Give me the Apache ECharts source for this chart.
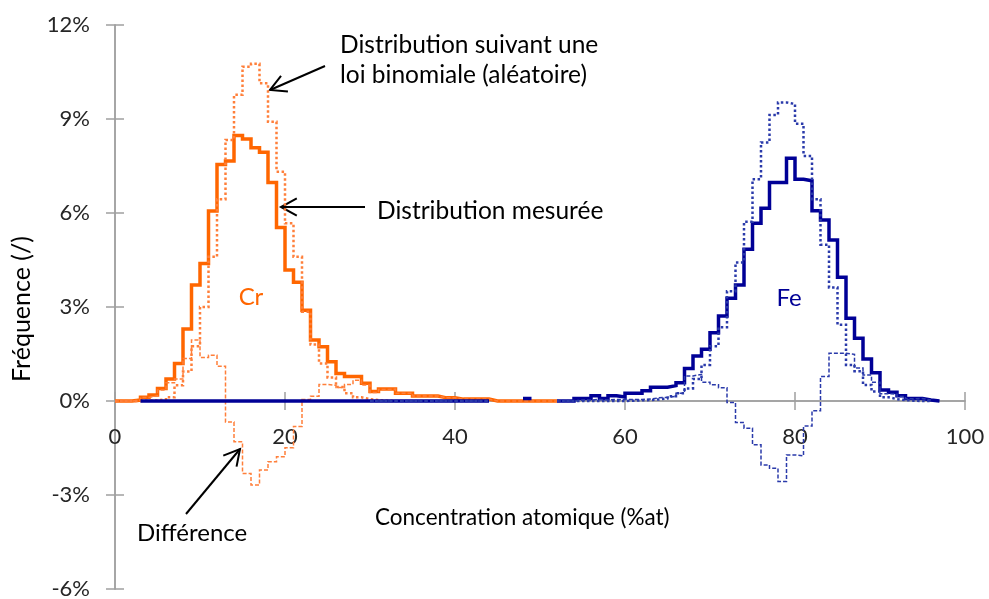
<!DOCTYPE html>
<html><head><meta charset="utf-8">
<script src="https://cdn.jsdelivr.net/npm/echarts@6/dist/echarts.min.js"></script>
<style>html,body{margin:0;padding:0;background:#fff}#c{width:989px;height:599px}</style>
</head><body><div id="c"></div>
<script>
// ---- data (bin width 1 %at, value = frequency in %) ----
const binWidth = 1;
const xTicks = [0, 20, 40, 60, 80, 100];
const yTicks = [-6, -3, 0, 3, 6, 9, 12];

const crStart = 0;
const crMeasured = [0, 0, 0.03, 0.12, 0.19, 0.40, 0.70, 1.20, 2.30, 3.70,
  4.39, 6.06, 7.55, 7.66, 8.47, 8.36, 8.08, 7.94, 6.97, 5.54,
  4.18, 3.79, 2.90, 1.95, 1.73, 1.25, 0.88, 0.78, 0.78, 0.57,
  0.30, 0.38, 0.38, 0.25, 0.25, 0.16, 0.16, 0.16, 0.10, 0.10,
  0.06, 0.06, 0.06, 0.06, 0, 0, 0, 0, 0, 0, 0, 0];
const crBinomial = [0, 0, 0, 0.01, 0.02, 0.05, 0.12, 0.50, 0.94, 1.75,
  3.00, 4.60, 6.44, 8.33, 9.77, 10.67, 10.76, 10.14, 8.91, 7.32,
  5.67, 4.60, 2.85, 1.80, 1.20, 0.75, 0.45, 0.25, 0.12, 0.06,
  0.03, 0.01, 0];
const crDifference = [0, 0, 0.03, 0.11, 0.17, 0.35, 0.58, 0.70, 1.36, 1.95,
  1.39, 1.46, 1.11, -0.67, -1.30, -2.31, -2.68, -2.20, -1.94, -1.78,
  -1.49, -0.81, 0.05, 0.15, 0.53, 0.50, 0.43, 0.53, 0.66, 0.51,
  0.27, 0.37, 0.38, 0.25, 0.25, 0.16, 0.16, 0.16, 0.10, 0.10,
  0.06, 0.06, 0.06, 0.06, 0, 0, 0, 0, 0, 0, 0, 0];

const feStart = 3;
const feMeasured = [
  0, 0, 0, 0, 0, 0, 0, 0, 0, 0, 0, 0, 0, 0, 0, 0, 0, 0, 0, 0, 0,
  0, 0, 0, 0, 0, 0, 0, 0, 0, 0, 0, 0, 0, 0, 0, 0, 0, 0, 0, 0,
  null, null, null, null, 0.08, null, null, null,
  0, 0, 0.08, 0.08, 0.17, 0.08, 0.17, 0.13, 0.25, 0.25,
  0.33, 0.44, 0.44, 0.49, 0.58, 1.04, 1.44, 1.65, 2.18, 2.71,
  3.28, 3.70, 4.84, 5.67, 6.15, 6.97, 6.97, 7.75, 7.08, 7.03,
  6.07, 5.78, 5.14, 3.95, 2.64, 2.00, 1.34, 0.90, 0.35, 0.28,
  0.17, 0.08, 0.08, 0.03, 0];
const feRefStart = 30;
const feBinomial = [
  0, 0, 0, 0, 0, 0, 0, 0, 0, 0, 0, 0, 0, 0,
  null, null, null, null, null, null, null, null,
  0, 0, 0, 0, 0, 0, 0, 0, 0.01, 0.02,
  0.03, 0.05, 0.08, 0.15, 0.25, 0.40, 0.70, 1.15, 1.75, 2.35,
  3.50, 4.42, 5.72, 7.08, 8.25, 9.13, 9.53, 9.48, 8.85, 7.82,
  6.44, 4.99, 3.62, 2.43, 1.15, 0.95, 0.51, 0.30, 0.12, 0.06,
  0.03, 0.01, 0, 0];
const feDifference = [
  0, 0, 0, 0, 0, 0, 0, 0, 0, 0, 0, 0, 0, 0,
  null, null, null, null, null, null, null, null,
  0, 0, 0.03, 0.03, 0.05, 0.03, 0.05, 0.05, 0.05, 0.05,
  0.06, 0.10, 0.12, 0.15, 0.25, 0.80, 0.85, 0.60, 0.52, 0.42,
  -0.05, -0.69, -0.87, -1.40, -2.04, -2.15, -2.57, -1.72, -1.75, -0.80,
  -0.31, 0.78, 1.52, 1.52, 1.49, 1.05, 0.83, 0.60, 0.23, 0.22,
  0.14, 0.07, 0.08, 0.03];

const ORANGE = '#FF6600';
const BLUE = '#000096';
const FONT = 'Lato';

const GRID = { left: 115, right: 24, top: 25, bottom: 10 };
const PLOT_H = 599 - GRID.top - GRID.bottom;
// distance from grid bottom edge up to the y = 0 line
const zeroOffset = -PLOT_H * (0 - yTicks[0]) / (yTicks[yTicks.length - 1] - yTicks[0]);

function steps(start, vals) {
  const pts = [];
  vals.forEach((v, i) => {
    const x0 = start + i * binWidth;
    if (v === null) { pts.push([x0, null]); return; }
    pts.push([x0, v], [x0 + binWidth, v]);
  });
  return pts;
}

function series(start, vals, color, width, type) {
  return {
    type: 'line', data: steps(start, vals), showSymbol: false, symbol: 'none',
    connectNulls: false, silent: true, animation: false,
    lineStyle: { color: color, width: width, type: type, cap: 'butt', join: 'miter' }
  };
}

function xAxisDef(inside, showLabel) {
  return {
    type: 'value', min: xTicks[0], max: xTicks[xTicks.length - 1], interval: xTicks[1] - xTicks[0],
    position: 'bottom', offset: zeroOffset,
    axisLine: { show: true, onZero: false, lineStyle: { color: '#A0A0A0', width: 1.5 } },
    axisTick: { show: true, inside: inside, length: 9, lineStyle: { color: '#A0A0A0', width: 1.5 } },
    axisLabel: { show: showLabel, margin: 25, fontFamily: FONT, fontSize: 22, color: '#262626' },
    splitLine: { show: false }
  };
}
function yAxisDef(inside, showLabel) {
  return {
    type: 'value', min: yTicks[0], max: yTicks[yTicks.length - 1], interval: yTicks[1] - yTicks[0],
    position: 'left',
    axisLine: { show: true, onZero: false, lineStyle: { color: '#A0A0A0', width: 1.5 } },
    axisTick: { show: true, inside: inside, length: 9, lineStyle: { color: '#A0A0A0', width: 1.5 } },
    axisLabel: { show: showLabel, margin: 25, fontFamily: FONT, fontSize: 22, color: '#262626',
      formatter: v => v + '%' },
    splitLine: { show: false }
  };
}

function arrow(x1, y1, x2, y2) {
  const ang = Math.atan2(y2 - y1, x2 - x1);
  const L = 18, a = 0.5;
  const p1 = [x2 - L * Math.cos(ang - a), y2 - L * Math.sin(ang - a)];
  const p2 = [x2 - L * Math.cos(ang + a), y2 - L * Math.sin(ang + a)];
  return [
    { type: 'line', shape: { x1: x1, y1: y1, x2: x2, y2: y2 }, style: { stroke: '#000', lineWidth: 2 } },
    { type: 'polyline', shape: { points: [p1, [x2, y2], p2] }, style: { stroke: '#000', lineWidth: 2, fill: null } }
  ];
}
function label(text, x, y, size, color, align, rot) {
  return { type: 'text', x: x, y: y, rotation: rot || 0,
    style: { text: text, fill: color || '#000', font: size + 'px ' + FONT, align: align || 'left', verticalAlign: 'middle' } };
}

const chart = echarts.init(document.getElementById('c'), null, { renderer: 'canvas' });
chart.setOption({
  animation: false,
  grid: { left: GRID.left, right: GRID.right, top: GRID.top, bottom: GRID.bottom, containLabel: false, outerBoundsMode: 'none' },
  xAxis: [xAxisDef(false, true), xAxisDef(true, false)],
  yAxis: [yAxisDef(false, true), yAxisDef(true, false)],
  series: [
    series(crStart, crMeasured, ORANGE, 3.5, 'solid'),
    series(crStart, crBinomial, '#FF7F3A', 2.5, [2.5, 2.5]),
    series(crStart, crDifference, '#FF7F3A', 1.5, [4, 2]),
    series(feStart, feMeasured, BLUE, 3.5, 'solid'),
    series(feRefStart, feBinomial, '#2A3AAA', 2.5, [2.5, 2.5]),
    series(feRefStart, feDifference, '#2A3AAA', 1.5, [4, 2])
  ],
  graphic: [
    ...arrow(325, 66, 270, 90),
    ...arrow(365, 207, 281, 207),
    ...arrow(186, 514, 240, 449),
    label('Distribution suivant une', 340, 45, 24.5),
    label('loi binomiale (aléatoire)', 340, 75, 24.5),
    label('Distribution mesurée', 377, 211, 24.5),
    label('Cr', 251, 297, 24, ORANGE, 'center'),
    label('Fe', 789, 298, 24, BLUE, 'center'),
    label('Différence', 137, 533, 24),
    label('Concentration atomique (%at)', 375, 518, 22.5),
    label('Fréquence (/)', 22, 309, 25, '#000', 'center', Math.PI / 2)
  ]
});
</script></body></html>
